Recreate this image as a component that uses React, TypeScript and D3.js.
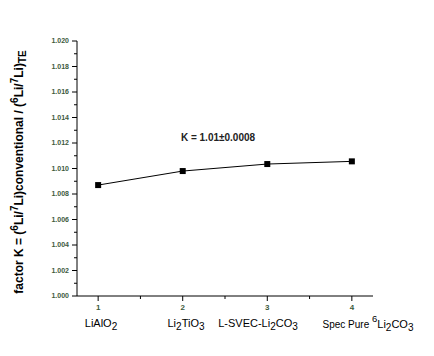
import React from "react";
import * as d3 from "d3";

const xValues = [1, 2, 3, 4];
const kValues = [1.0087, 1.0098, 1.01035, 1.01056];
const yMajorTicks = [1.0, 1.002, 1.004, 1.006, 1.008, 1.01, 1.012, 1.014, 1.016, 1.018, 1.02];
const xMinorTicks = [1.5, 2.5, 3.5];
const annotation = "K = 1.01±0.0008";

const W = 434;
const H = 356;
const left = 77;
const right = 373;
const top = 41;
const bottom = 296;

export default function App() {
  const x = d3.scaleLinear().domain([0.75, 4.25]).range([left, right]);
  const y = d3.scaleLinear().domain([1.0, 1.02]).range([bottom, top]);
  const line = d3
    .line<number>()
    .x((_, i) => x(xValues[i]))
    .y((d) => y(d));
  const minorY = d3.range(0, 20).map((i) => 1.001 + i * 0.002).filter((v) => v < 1.02);
  const tickColor = "#3d5a3d";
  const font = "Arial, 'Liberation Sans', sans-serif";
  const LY = 327;

  return (
    <svg width={W} height={H} style={{ position: "absolute", left: 0, top: 0, background: "#fff" }}>
      {/* axes */}
      <line x1={left} x2={left} y1={top} y2={bottom} stroke="#000" strokeWidth={1} />
      <line x1={left} x2={right} y1={bottom} y2={bottom} stroke="#000" strokeWidth={1} />
      {yMajorTicks.map((v) => (
        <g key={v}>
          <line x1={left - 5} x2={left} y1={y(v)} y2={y(v)} stroke="#000" />
          <text
            x={left - 8}
            y={y(v)}
            dy="0.35em"
            textAnchor="end"
            fontSize={7}
            fontWeight="bold"
            fontFamily={font}
            fill={tickColor}
          >
            {d3.format(".3f")(v)}
          </text>
        </g>
      ))}
      {minorY.map((v) => (
        <line key={v} x1={left - 3} x2={left} y1={y(v)} y2={y(v)} stroke="#000" />
      ))}
      {xValues.map((v) => (
        <g key={v}>
          <line x1={x(v)} x2={x(v)} y1={bottom} y2={bottom + 5} stroke="#000" />
          <text x={x(v)} y={310} textAnchor="middle" fontSize={8} fontWeight="bold" fontFamily={font} fill={tickColor}>
            {v}
          </text>
        </g>
      ))}
      {xMinorTicks.map((v) => (
        <line key={v} x1={x(v)} x2={x(v)} y1={bottom} y2={bottom + 3} stroke="#000" />
      ))}
      {/* category labels */}
      <text x={101} y={LY} textAnchor="middle" fontSize={11} fontFamily={font}>
        LiAlO<tspan dy={3} fontSize={10}>2</tspan>
      </text>
      <text x={186} y={LY} textAnchor="middle" fontSize={11} fontFamily={font}>
        Li<tspan dy={3} fontSize={10}>2</tspan>
        <tspan dy={-3}>TiO</tspan>
        <tspan dy={3} fontSize={10}>3</tspan>
      </text>
      <text x={258} y={LY} textAnchor="middle" fontSize={11} fontFamily={font}>
        L-SVEC-Li<tspan dy={3} fontSize={10}>2</tspan>
        <tspan dy={-3}>CO</tspan>
        <tspan dy={3} fontSize={10}>3</tspan>
      </text>
      <text x={368} y={LY + 1} textAnchor="middle" fontSize={10} fontFamily={font}>
        Spec Pure <tspan dy={-6} fontSize={9.5}>6</tspan>
        <tspan dy={6} fontSize={11}>Li</tspan>
        <tspan dy={3} fontSize={10}>2</tspan>
        <tspan dy={-3} fontSize={11}>CO</tspan>
        <tspan dy={3} fontSize={10}>3</tspan>
      </text>
      {/* data */}
      <path d={line(kValues) ?? ""} fill="none" stroke="#000" strokeWidth={1} />
      {kValues.map((v, i) => (
        <rect key={i} x={x(xValues[i]) - 3} y={y(v) - 3} width={6} height={6} fill="#000" />
      ))}
      <text x={218} y={141} textAnchor="middle" fontSize={10} fontWeight="bold" fontFamily={font} fill="#222">
        {annotation}
      </text>
      {/* y title */}
      <text
        transform={`translate(23, 172) rotate(-90)`}
        textAnchor="middle"
        fontSize={12}
        fontWeight="bold"
        fontFamily={font}
      >
        factor K = (<tspan dy={-5} fontSize={10}>6</tspan>
        <tspan dy={5}>Li/</tspan>
        <tspan dy={-5} fontSize={10}>7</tspan>
        <tspan dy={5}>Li)conventional / (</tspan>
        <tspan dy={-5} fontSize={10}>6</tspan>
        <tspan dy={5}>Li/</tspan>
        <tspan dy={-5} fontSize={10}>7</tspan>
        <tspan dy={5}>Li)</tspan>
        <tspan dy={3} fontSize={10}>TE</tspan>
      </text>
    </svg>
  );
}
